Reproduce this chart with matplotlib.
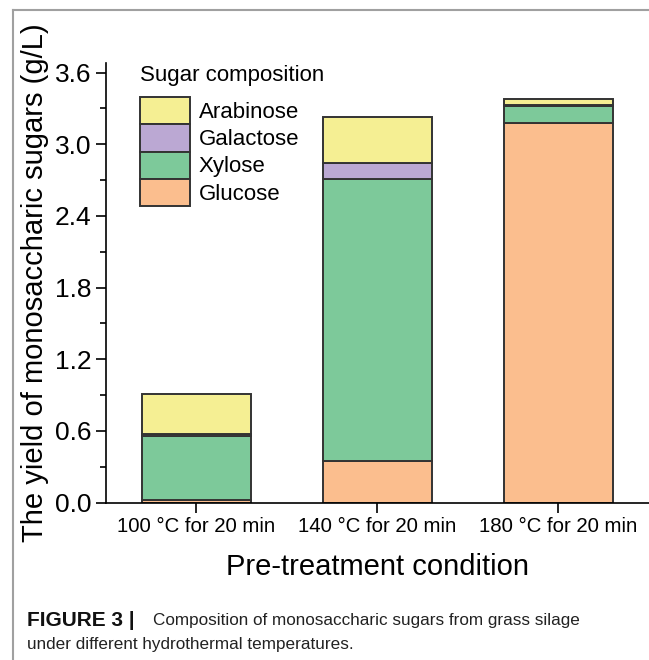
import matplotlib.pyplot as plt
from matplotlib.lines import Line2D
from matplotlib.ticker import MultipleLocator

plt.rcParams['font.family'] = ['Liberation Sans', 'DejaVu Sans']

conditions = ['100 °C for 20 min', '140 °C for 20 min', '180 °C for 20 min']
sugars = ['Glucose', 'Xylose', 'Galactose', 'Arabinose']
glucose = [0.025, 0.35, 3.18]
xylose = [0.535, 2.36, 0.14]
galactose = [0.015, 0.13, 0.01]
arabinose = [0.335, 0.39, 0.05]
colors = ['#FBBE8E', '#7DC99A', '#BBA8D3', '#F5EF93']

fig = plt.figure(figsize=(6.49, 6.6), dpi=100)
ax = fig.add_axes([0.163, 0.2386, 0.837, 0.6659])

x = list(range(len(conditions)))
bottom = [0, 0, 0]
handles = []
for name, vals, c in zip(sugars, [glucose, xylose, galactose, arabinose], colors):
    b = ax.bar(x, vals, 0.6, bottom=bottom, color=c, edgecolor='#333333',
               linewidth=1.4, label=name)
    handles.append(b)
    bottom = [bb + v for bb, v in zip(bottom, vals)]

ax.set_xlim(-0.5, 2.5)
ax.set_ylim(0, 3.68)
ax.yaxis.set_major_locator(MultipleLocator(0.6))
ax.yaxis.set_minor_locator(MultipleLocator(0.3))
ax.set_xticks(x)
ax.set_xticklabels(conditions)
ax.tick_params(axis='both', which='major', length=7, width=1.2, direction='out')
ax.tick_params(axis='x', labelsize=14.7)
ax.tick_params(axis='y', labelsize=19)
ax.tick_params(axis='y', which='minor', length=4, width=1.2)
ax.yaxis.set_major_formatter(plt.FuncFormatter(lambda v, p: f'{v:.1f}'))
ax.spines['top'].set_visible(False)
ax.spines['right'].set_visible(False)
ax.spines['left'].set_linewidth(1.2)
ax.spines['bottom'].set_linewidth(1.2)
ax.set_ylabel('The yield of monosaccharic sugars (g/L)', fontsize=21, labelpad=4)
ax.set_xlabel('Pre-treatment condition', fontsize=21, labelpad=12)

leg = ax.legend(handles[::-1], sugars[::-1], title='Sugar composition', loc='upper left',
                bbox_to_anchor=(0.063, 0.995), frameon=False, fontsize=16, title_fontsize=16,
                handlelength=2.25, handleheight=1.5, labelspacing=0.0, handletextpad=0.4,
                borderaxespad=0.0, borderpad=0.0)
leg._legend_box.align = 'left'
leg._legend_box.sep = 8

# article frame and caption
fig.add_artist(Line2D([13 / 649, 13 / 649], [0, 1 - 10 / 660], color='#a0a0a0', lw=1.5))
fig.add_artist(Line2D([13 / 649, 1], [1 - 10 / 660, 1 - 10 / 660], color='#a0a0a0', lw=1.5))
fig.text(27 / 649, 1 - 620 / 660, 'FIGURE 3 |', fontsize=15, fontweight='bold',
         va='center', color='#111111')
fig.text(153 / 649, 1 - 620 / 660, 'Composition of monosaccharic sugars from grass silage',
         fontsize=12.3, va='center', color='#222222')
fig.text(27 / 649, 1 - 645 / 660, 'under different hydrothermal temperatures.',
         fontsize=12.3, va='center', color='#222222')

fig.savefig('out.png', dpi=100)
